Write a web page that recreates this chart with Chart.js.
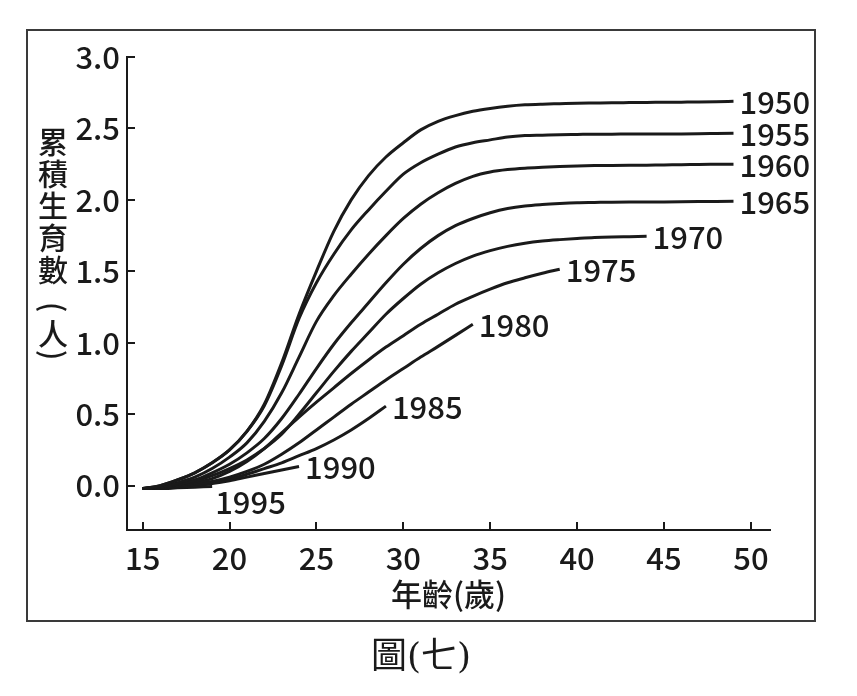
<!DOCTYPE html>
<html>
<head>
<meta charset="utf-8">
<script src="https://cdn.jsdelivr.net/npm/chart.js@4.4.0/dist/chart.umd.min.js"></script>
<style>
    body { margin: 0; background: #fff; }
    #wrap { width: 857px; height: 696px; }
</style>
</head>
<body>
<div id="wrap"><canvas id="chart" width="857" height="696"></canvas></div>
<script>
const ages = [15, 16, 17, 18, 19, 20, 21, 22, 23, 24, 25, 26, 27, 28, 29, 30, 31, 32,
    33, 34, 35, 36, 37, 38, 39, 40, 41, 42, 43, 44, 45, 46, 47, 48, 49];
const cohorts = ["1950", "1955", "1960", "1965", "1970", "1975", "1980", "1985", "1990", "1995"];
const xTicks = [15, 20, 25, 30, 35, 40, 45, 50];
const yTicks = [0, 0.5, 1.0, 1.5, 2.0, 2.5, 3.0];

const c1950 = [-0.02, 0.00, 0.04, 0.09, 0.16, 0.25, 0.38, 0.57, 0.86, 1.20, 1.50, 1.78, 2.00, 2.17, 2.30,
    2.40, 2.49, 2.55, 2.59, 2.62, 2.64, 2.655, 2.665, 2.67, 2.673, 2.676, 2.678, 2.68, 2.681, 2.682,
    2.683, 2.684, 2.685, 2.687, 2.69];
const c1955 = [-0.02, 0.00, 0.04, 0.09, 0.16, 0.25, 0.38, 0.56, 0.84, 1.17, 1.42, 1.62, 1.79, 1.93, 2.06,
    2.18, 2.26, 2.32, 2.37, 2.40, 2.42, 2.44, 2.45, 2.453, 2.456, 2.458, 2.46, 2.46, 2.461, 2.461,
    2.462, 2.462, 2.463, 2.465, 2.467];
const c1960 = [-0.02, -0.01, 0.02, 0.06, 0.12, 0.20, 0.30, 0.45, 0.65, 0.90, 1.15, 1.33, 1.48, 1.62, 1.75,
    1.87, 1.97, 2.05, 2.115, 2.165, 2.195, 2.212, 2.222, 2.228, 2.233, 2.237, 2.24, 2.241, 2.242, 2.243,
    2.245, 2.246, 2.248, 2.249, 2.25];
const c1965 = [-0.02, -0.01, 0.01, 0.04, 0.09, 0.15, 0.23, 0.33, 0.47, 0.64, 0.82, 0.99, 1.14, 1.28, 1.42,
    1.55, 1.66, 1.75, 1.82, 1.87, 1.91, 1.94, 1.958, 1.968, 1.975, 1.98, 1.982, 1.984, 1.985, 1.985,
    1.986, 1.987, 1.988, 1.989, 1.99];
const c1970 = [-0.02, -0.01, 0.01, 0.03, 0.07, 0.12, 0.18, 0.26, 0.36, 0.50, 0.65, 0.80, 0.94, 1.07, 1.20,
    1.31, 1.41, 1.49, 1.555, 1.607, 1.645, 1.675, 1.697, 1.712, 1.722, 1.73, 1.737, 1.741, 1.743, 1.745];
const c1975 = [-0.02, -0.015, 0.00, 0.02, 0.05, 0.10, 0.17, 0.26, 0.37, 0.48, 0.585, 0.685, 0.785, 0.88, 0.97,
    1.05, 1.13, 1.20, 1.27, 1.325, 1.375, 1.42, 1.455, 1.487, 1.515];
const c1980 = [-0.02, -0.015, -0.005, 0.01, 0.03, 0.06, 0.10, 0.15, 0.22, 0.30, 0.39, 0.48, 0.57, 0.655, 0.74,
    0.82, 0.90, 0.975, 1.052, 1.13];
const c1985 = [-0.02, -0.015, -0.01, 0.00, 0.02, 0.045, 0.08, 0.12, 0.16, 0.21, 0.26, 0.32, 0.39, 0.47, 0.557];
const c1990 = [-0.02, -0.015, -0.01, 0.00, 0.015, 0.035, 0.06, 0.085, 0.11, 0.135];
const c1995 = [-0.02, -0.02, -0.015, -0.01, -0.005];

const series = [c1950, c1955, c1960, c1965, c1970, c1975, c1980, c1985, c1990, c1995];

const yTitle = ["累", "積", "生", "育", "數", "(", "人", ")"];
const xTitle = "年齡(歲)";
const caption = "圖(七)";

const ink = "#1a1a1a";
const numFont = '"Noto Sans CJK TC", "Noto Sans", sans-serif';

const datasets = series.map((vals, i) => ({
    label: cohorts[i],
    data: vals.map((v, j) => ({ x: ages[j], y: v })),
    borderColor: ink,
    borderWidth: 3,
    pointRadius: 0,
    fill: false,
    cubicInterpolationMode: "monotone"
}));

const decor = {
    id: "decor",
    afterDraw(chart) {
        const ctx = chart.ctx;
        const xs = chart.scales.x;
        const ys = chart.scales.y;
        const area = chart.chartArea;
        ctx.save();

        // frame
        ctx.strokeStyle = "#3a3a3a";
        ctx.lineWidth = 2;
        ctx.strokeRect(27, 30, 788, 591);

        // inside tick marks
        ctx.strokeStyle = ink;
        ctx.lineWidth = 2;
        xs.ticks.forEach(t => {
            const px = Math.round(xs.getPixelForValue(t.value));
            ctx.beginPath();
            ctx.moveTo(px, area.bottom);
            ctx.lineTo(px, area.bottom - 8);
            ctx.stroke();
        });
        ys.ticks.forEach(t => {
            const py = Math.round(ys.getPixelForValue(t.value));
            ctx.beginPath();
            ctx.moveTo(area.left, py);
            ctx.lineTo(area.left + 8, py);
            ctx.stroke();
        });

        // cohort labels at the end of each line
        ctx.fillStyle = ink;
        ctx.font = `500 31px ${numFont}`;
        ctx.textAlign = "left";
        ctx.textBaseline = "middle";
        chart.data.datasets.forEach((ds, i) => {
            const pts = chart.getDatasetMeta(i).data;
            const last = pts[pts.length - 1];
            if (ds.label === "1995") {
                ctx.fillText(ds.label, last.x + 3, last.y + 16);
            } else {
                ctx.fillText(ds.label, last.x + 6, last.y + 1);
            }
        });

        // vertical y title, brackets turned for vertical writing
        ctx.font = `500 30px ${numFont}`;
        ctx.textAlign = "center";
        const yPos = [142, 174, 206, 238, 270, 307, 334, 355];
        yTitle.forEach((ch, i) => {
            if (ch === "(" || ch === ")") {
                ctx.save();
                ctx.translate(53, yPos[i]);
                ctx.rotate(Math.PI / 2);
                ctx.fillText(ch, 0, 0);
                ctx.restore();
            } else {
                ctx.fillText(ch, 53, yPos[i]);
            }
        });

        // x title
        ctx.font = `500 31px ${numFont}`;
        ctx.fillText(xTitle, (area.left + area.right) / 2, 594);

        // caption
        ctx.font = '36px "DejaVu Serif", "Noto Sans CJK TC", serif';
        ctx.fillText(caption, 421, 659);
        ctx.restore();
    }
};

new Chart(document.getElementById("chart"), {
    type: "line",
    data: { datasets },
    options: {
        responsive: false,
        animation: false,
        layout: { padding: { left: 0, right: 87, top: 57, bottom: 106 } },
        plugins: { legend: { display: false }, tooltip: { enabled: false } },
        scales: {
            x: {
                type: "linear",
                min: 14.1,
                max: 51.1,
                afterBuildTicks: s => { s.ticks = xTicks.map(v => ({ value: v })); },
                afterFit: s => { s.height = 60; },
                grid: { display: false, drawTicks: false },
                border: { display: true, color: ink, width: 2 },
                ticks: { color: ink, padding: 10, font: { family: numFont, size: 31, weight: "500" } }
            },
            y: {
                type: "linear",
                min: -0.31,
                max: 3.0,
                afterBuildTicks: s => { s.ticks = yTicks.map(v => ({ value: v })); },
                afterFit: s => { s.width = 127; },
                grid: { display: false, drawTicks: false },
                border: { display: true, color: ink, width: 2 },
                ticks: {
                    color: ink,
                    padding: 7,
                    font: { family: numFont, size: 31, weight: "500" },
                    callback: v => v.toFixed(1)
                }
            }
        }
    },
    plugins: [decor]
});
</script>
</body>
</html>
